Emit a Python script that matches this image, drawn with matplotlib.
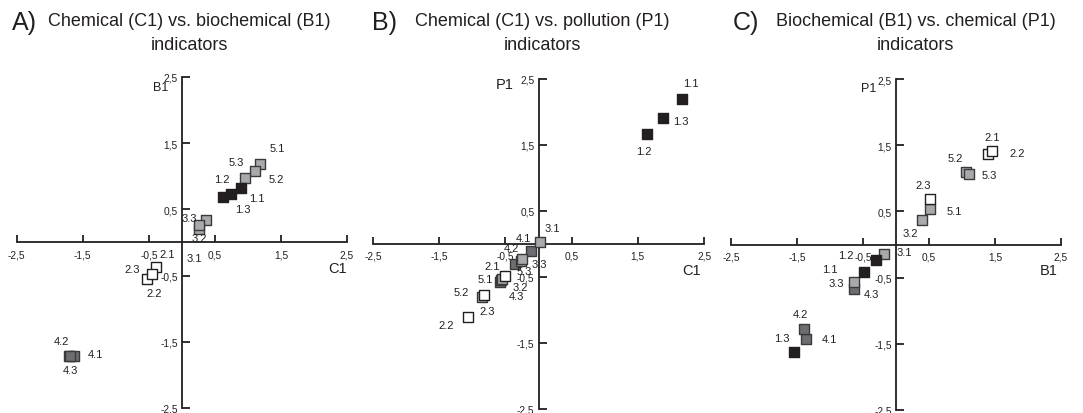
import matplotlib.pyplot as plt

plt.rcParams['font.family'] = ['Liberation Sans', 'DejaVu Sans']

# =====================================================================
# --- DATOS ---
# =====================================================================

ids = ['1.1', '1.2', '1.3', '2.1', '2.2', '2.3', '3.1', '3.2', '3.3',
       '4.1', '4.2', '4.3', '5.1', '5.2', '5.3']

# A) C1 (x) vs. B1 (y)
a_x = [0.90, 0.63, 0.75, -0.39, -0.53, -0.45, 0.37, 0.26, 0.26,
       -1.64, -1.71, -1.69, 1.19, 1.10, 0.96]
a_y = [0.82, 0.69, 0.74, -0.37, -0.55, -0.48, 0.34, 0.21, 0.27,
       -1.71, -1.71, -1.72, 1.19, 1.08, 0.97]

# B) C1 (x) vs. P1 (y)
b_x = [2.17, 1.64, 1.88, -0.51, -1.06, -0.83, 0.03, -0.55, -0.25,
       -0.12, -0.35, -0.58, -0.56, -0.86, -0.27]
b_y = [2.19, 1.66, 1.91, -0.49, -1.10, -0.77, 0.03, -0.53, -0.22,
       -0.10, -0.31, -0.58, -0.55, -0.81, -0.26]

# C) B1 (x) vs. P1 (y)
c_x = [-0.48, -0.31, -1.54, 1.40, 1.45, 0.52, -0.18, 0.40, -0.63,
       -1.36, -1.39, -0.63, 0.52, 1.06, 1.11]
c_y = [-0.41, -0.24, -1.62, 1.37, 1.41, 0.68, -0.15, 0.37, -0.56,
       -1.43, -1.28, -0.67, 0.53, 1.10, 1.07]

tick_vals = [-2.5, -1.5, -0.5, 0.5, 1.5, 2.5]
tick_labels = ['-2,5', '-1,5', '-0,5', '0,5', '1,5', '2,5']

# =====================================================================
# --- ESTILO ---
# =====================================================================

INK = '#231f20'
# color de relleno y orden de dibujo por grupo (primer dígito del id)
fills = {'1': INK, '2': 'white', '3': '#a7a9ac', '4': '#6d6e71', '5': '#a7a9ac'}
edges = {'1': INK, '2': INK, '3': '#3a3a3a', '4': '#3a3a3a', '5': '#3a3a3a'}
zorder = {'4': 3, '5': 4, '3': 5, '1': 6, '2': 7}

# desplazamiento de cada etiqueta respecto a su punto (píxeles, y hacia arriba)
a_off = {'1.1': (16, -10), '1.2': (-2, 18), '1.3': (11, -15),
         '2.1': (11, 13), '2.2': (7, -14), '2.3': (-20, 5),
         '3.1': (-12, -38), '3.2': (0, -9), '3.3': (-10, 7),
         '4.1': (22, 2), '4.2': (-7, 15), '4.3': (0, -14),
         '5.1': (17, 16), '5.2': (22, -8), '5.3': (-9, 16)}
b_off = {'1.1': (9, 16), '1.2': (-3, -17), '1.3': (18, -3),
         '2.1': (-13, 10), '2.2': (-22, -8), '2.3': (4, -16),
         '3.1': (12, 14), '3.2': (18, -8), '3.3': (17, -5),
         '4.1': (-7, 13), '4.2': (-4, 16), '4.3': (16, -14),
         '5.1': (-16, 1), '5.2': (-20, 5), '5.3': (4, -10)}
c_off = {'1.1': (-34, 3), '1.2': (-30, 5), '1.3': (-13, 14),
         '2.1': (4, 17), '2.2': (25, -2), '2.3': (-7, 14),
         '3.1': (20, 2), '3.2': (-12, -13), '3.3': (-18, -1),
         '4.1': (23, 0), '4.2': (-4, 15), '4.3': (17, -5),
         '5.1': (24, -2), '5.2': (-11, 14), '5.3': (20, -1)}

W, H = 1083, 414


def draw_panel(box, xs, ys, offsets, xlab, xlab_pos, ylab, ylab_pos, ylab_size):
    left, right, top, bottom = box
    ax = fig.add_axes([left / W, 1 - bottom / H, (right - left) / W, (bottom - top) / H])
    ax.set_xlim(-2.5, 2.5)
    ax.set_ylim(-2.5, 2.5)
    ax.patch.set_alpha(0)
    for s in ('top', 'right'):
        ax.spines[s].set_visible(False)
    for s in ('left', 'bottom'):
        ax.spines[s].set_position(('data', 0))
        ax.spines[s].set_linewidth(1.3)
        ax.spines[s].set_color(INK)
    ax.set_xticks(tick_vals, tick_labels)
    ax.set_yticks(tick_vals, tick_labels)
    ax.tick_params(axis='x', direction='in', length=5, width=1.3, pad=5,
                   labelsize=7.3, colors=INK)
    ax.tick_params(axis='y', direction='in', length=6, width=1.3, pad=3,
                   labelsize=7.3, colors=INK)

    for pid, x, y in zip(ids, xs, ys):
        g = pid[0]
        ax.scatter(x, y, marker='s', s=46, c=fills[g], edgecolors=edges[g],
                   linewidths=1.0, zorder=zorder[g], clip_on=False)
        ax.annotate(pid, (x, y), xytext=offsets[pid], textcoords='offset pixels',
                    ha='center', va='center', fontsize=8, color=INK, zorder=8)

    ax.text(xlab_pos[0], xlab_pos[1], xlab, ha='right', va='center',
            fontsize=10.5, color=INK)
    ax.text(ylab_pos[0], ylab_pos[1], ylab, ha='right', va='center',
            fontsize=ylab_size, color=INK)
    return ax


fig = plt.figure(figsize=(W / 100, H / 100), dpi=100)

draw_panel((16.7, 347, 78, 409), a_x, a_y, a_off,
           'C1', (2.5, -0.38), 'B1', (-0.2, 2.35), 9)
draw_panel((373, 704, 80, 410), b_x, b_y, b_off,
           'C1', (2.46, -0.39), 'P1', (-0.38, 2.42), 10.5)
draw_panel((731, 1061, 80, 411), c_x, c_y, c_off,
           'B1', (2.45, -0.38), 'P1', (-0.3, 2.36), 9)

# --- títulos ---
titles = [('A)', 12, 'Chemical (C1) vs. biochemical (B1)', 48),
          ('B)', 372, 'Chemical (C1) vs. pollution (P1)', 415),
          ('C)', 733, 'Biochemical (B1) vs. chemical (P1)', 776)]
for letter, lx, text, tx in titles:
    fig.text(lx / W, 1 - 23 / H, letter, fontsize=18, ha='left', va='center', color=INK)
    t = fig.text(tx / W, 1 - 22 / H, text, fontsize=13, ha='left', va='center', color=INK)
    fig.canvas.draw()
    bb = t.get_window_extent()
    cx = (bb.x0 + bb.x1) / 2
    fig.text(cx / W, 1 - 46 / H, 'indicators', fontsize=13, ha='center', va='center',
             color=INK)

fig.savefig('out.png', dpi=100)
